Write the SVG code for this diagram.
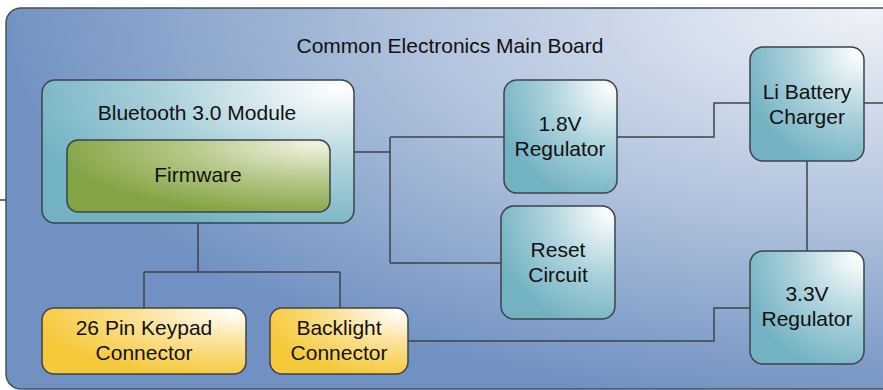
<svg xmlns="http://www.w3.org/2000/svg" width="883" height="390" viewBox="0 0 883 390">
<defs>
<radialGradient id="gBoard" gradientUnits="userSpaceOnUse" cx="0" cy="0" r="1" fx="0" fy="0" gradientTransform="translate(870 10) scale(880 400)">
<stop offset="0" stop-color="#eef2f8"/>
<stop offset="0.5" stop-color="#b3c4de"/>
<stop offset="1" stop-color="#7091c1"/>
</radialGradient>
<radialGradient id="gTeal" cx="0.95" cy="0.05" r="1.05" fx="0.95" fy="0.05">
<stop offset="0" stop-color="#ffffff"/>
<stop offset="0.55" stop-color="#a9d0da"/>
<stop offset="1" stop-color="#72b2c3"/>
</radialGradient>
<radialGradient id="gGreen" cx="0.95" cy="0.05" r="1" fx="0.95" fy="0.05">
<stop offset="0" stop-color="#f2f3e2"/>
<stop offset="0.5" stop-color="#b6c98a"/>
<stop offset="1" stop-color="#84a444"/>
</radialGradient>
<radialGradient id="gYellow" cx="0.95" cy="0.05" r="1" fx="0.95" fy="0.05">
<stop offset="0" stop-color="#ffffff"/>
<stop offset="0.5" stop-color="#fbe193"/>
<stop offset="1" stop-color="#f6c93a"/>
</radialGradient>
<style>
.node{stroke:#3d434a;stroke-width:1.5}
.t{font-family:"Liberation Sans",Arial,sans-serif;font-size:21px;fill:#111;text-anchor:middle}
.c{fill:none;stroke:#3d434a;stroke-width:1.5}
</style>
</defs>
<g id="board">
<rect x="6" y="8" width="900" height="381" rx="15" fill="url(#gBoard)" stroke="#4a5058" stroke-width="1.5"/>
<text class="t" x="450" y="53">Common Electronics Main Board</text>
</g>
<g id="connectors">
<path class="c" d="M0 200H6"/>
<path class="c" d="M354 152H390" stroke-width="2.2"/>
<path class="c" d="M390 137V263M390 137H504M390 263H501"/>
<path class="c" d="M617 137H714V103H750"/>
<path class="c" d="M864 103H883"/>
<path class="c" d="M807 161V251"/>
<path class="c" d="M198 223V272M144 272H340M144 272V308M340 272V308"/>
<path class="c" d="M408 341H714V308H750"/>
</g>
<g id="bluetooth">
<rect class="node" x="42" y="80" width="312" height="143" rx="13" fill="url(#gTeal)"/>
<text class="t" x="197" y="120">Bluetooth 3.0 Module</text>
</g>
<g id="firmware">
<rect class="node" x="67" y="140" width="263" height="72" rx="11" fill="url(#gGreen)"/>
<text class="t" x="198" y="182">Firmware</text>
</g>
<g id="reg18">
<rect class="node" x="504" y="80" width="113" height="113" rx="13" fill="url(#gTeal)"/>
<text class="t" x="560" y="131">1.8V</text>
<text class="t" x="560" y="156">Regulator</text>
</g>
<g id="charger">
<rect class="node" x="750" y="47" width="114" height="114" rx="13" fill="url(#gTeal)"/>
<text class="t" x="807" y="99">Li Battery</text>
<text class="t" x="807" y="124">Charger</text>
</g>
<g id="reset">
<rect class="node" x="501" y="206" width="114" height="113" rx="13" fill="url(#gTeal)"/>
<text class="t" x="558" y="257">Reset</text>
<text class="t" x="558" y="282">Circuit</text>
</g>
<g id="reg33">
<rect class="node" x="750" y="251" width="114" height="113" rx="13" fill="url(#gTeal)"/>
<text class="t" x="807" y="301">3.3V</text>
<text class="t" x="807" y="326">Regulator</text>
</g>
<g id="keypad">
<rect class="node" x="42" y="308" width="204" height="66" rx="12" fill="url(#gYellow)"/>
<text class="t" x="144" y="335">26 Pin Keypad</text>
<text class="t" x="144" y="360">Connector</text>
</g>
<g id="backlight">
<rect class="node" x="270" y="308" width="138" height="66" rx="12" fill="url(#gYellow)"/>
<text class="t" x="339" y="335">Backlight</text>
<text class="t" x="339" y="360">Connector</text>
</g>
</svg>
